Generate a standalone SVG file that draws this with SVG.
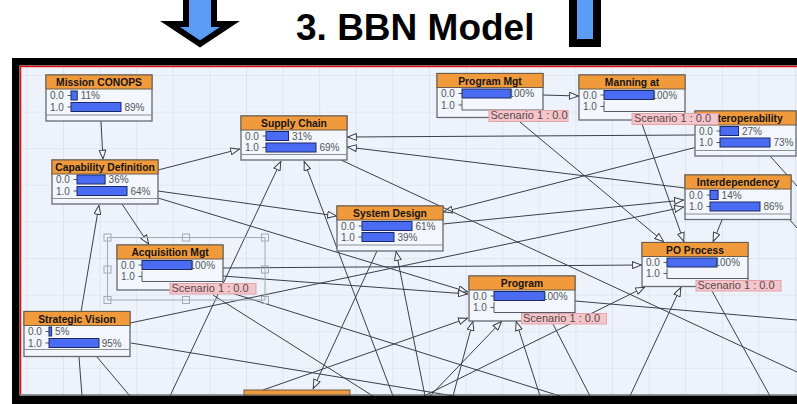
<svg xmlns="http://www.w3.org/2000/svg" width="797" height="404" viewBox="0 0 797 404">
<style>
.body{fill:#f3f6fc;stroke:#656b73;stroke-width:1.3}
.hdr{fill:#f09a3c;stroke:#6d5c48;stroke-width:1}
.ht{font-family:"Liberation Sans",Arial,sans-serif;font-weight:bold;font-size:10.3px;fill:#141414;text-anchor:middle}
.rl{font-family:"Liberation Sans",Arial,sans-serif;font-size:10px;fill:#505860}
.pc{font-family:"Liberation Sans",Arial,sans-serif;font-size:10px;fill:#505860}
.bar{fill:#4a6cf2;stroke:#1c2a66;stroke-width:1}
.tk{stroke:#555c66;stroke-width:1;fill:none}
.sep{stroke:#8a9098;stroke-width:1}
.lab{fill:#f4c5cb;stroke:#e2a3ab;stroke-width:1}
.lt{font-family:"Liberation Sans",Arial,sans-serif;font-size:11px;fill:#5a4848}
.cn line,.cn path{stroke:#3a4048;stroke-width:1;fill:none}
.ar{marker-end:url(#ah)}
.hd{fill:none;stroke:#a2aab6;stroke-width:1}
</style>
<defs>
<pattern id="grid" x="26.4" y="38.4" width="36.6" height="36.6" patternUnits="userSpaceOnUse">
<path d="M0,0H36.6M0,0V36.6" stroke="#d4dce8" stroke-width="1.2" fill="none"/>
</pattern>
<marker id="ah" viewBox="0 0 10 8" refX="10" refY="4" markerWidth="10" markerHeight="8" orient="auto" markerUnits="userSpaceOnUse">
<path d="M0.6,0.6 L9.4,4 L0.6,7.4 Z" fill="#f6f8fc" stroke="#3a4048" stroke-width="1"/>
</marker>
</defs>
<rect width="797" height="404" fill="#ffffff"/>
<!-- title area -->
<polygon points="186,-6 186,24 170,24 200,44 230,24 214,24 214,-6" fill="#5a9cf6" stroke="#000" stroke-width="6" stroke-linejoin="miter"/>
<text x="296" y="40" font-family="'Liberation Sans',Arial,sans-serif" font-weight="bold" font-size="37" fill="#000">3. BBN Model</text>
<rect x="573" y="-10" width="24" height="53" fill="#5a9cf6" stroke="#000" stroke-width="8"/>
<!-- panel -->
<rect x="20" y="66" width="777" height="330" fill="#eef3fb"/>
<rect x="20" y="66" width="777" height="330" fill="url(#grid)"/>
<!-- connectors -->
<g id="connectors" class="cn">
<line class="ar" x1="101" y1="121" x2="103" y2="159.5"/>
<line class="ar" x1="158" y1="170" x2="240" y2="149"/>
<line class="ar" x1="158" y1="191" x2="337" y2="216"/>
<line class="ar" x1="158" y1="198" x2="468" y2="292"/>
<line class="ar" x1="122" y1="204" x2="149" y2="244.5"/>
<line class="ar" x1="81" y1="312" x2="99" y2="205"/>
<line class="ar" x1="695" y1="135" x2="347" y2="137"/>
<line class="ar" x1="685" y1="188" x2="347" y2="147"/>
<line class="ar" x1="697" y1="147" x2="443" y2="212"/>
<line class="ar" x1="542" y1="95" x2="579" y2="96"/>
<line class="ar" x1="520" y1="122" x2="664" y2="242"/>
<line class="ar" x1="642" y1="124" x2="684" y2="242"/>
<line class="ar" x1="722" y1="220" x2="713" y2="242"/>
<line class="ar" x1="443" y1="224" x2="684" y2="200"/>
<line class="ar" x1="130" y1="323" x2="684" y2="207"/>
<line class="ar" x1="222" y1="268" x2="642" y2="265"/>
<line class="ar" x1="222" y1="276" x2="468" y2="294"/>
<line x1="341" y1="160" x2="797" y2="372"/>
<line x1="131" y1="343" x2="460" y2="397"/>
<line x1="79" y1="357" x2="82" y2="396"/>
<line x1="97" y1="357" x2="130" y2="396"/>
<line x1="213" y1="295" x2="373" y2="396"/>
<line x1="222" y1="290" x2="560" y2="396"/>
<line class="ar" x1="170" y1="396" x2="281" y2="161"/>
<line class="ar" x1="393" y1="396" x2="304" y2="161"/>
<line class="ar" x1="425" y1="396" x2="396" y2="251"/>
<line class="ar" x1="377" y1="251" x2="313" y2="389"/>
<line class="ar" x1="263" y1="390" x2="468" y2="318"/>
<line class="ar" x1="424" y1="396" x2="645" y2="287"/>
<line class="ar" x1="630" y1="396" x2="681" y2="287"/>
<line x1="712" y1="291" x2="770" y2="396"/>
<line x1="770" y1="156" x2="797" y2="186"/>
<line x1="790" y1="220" x2="797" y2="228"/>
<line x1="575" y1="301" x2="797" y2="320"/>
<line class="ar" x1="453" y1="396" x2="473" y2="321"/>
<line class="ar" x1="430" y1="396" x2="502" y2="321"/>
<line class="ar" x1="540" y1="396" x2="516" y2="321"/>
<line x1="553" y1="324" x2="590" y2="396"/>
</g>
<!-- nodes -->
<g id="n-mission" transform="translate(46,75)">
<rect class="body" width="106" height="46"/><rect class="hdr" width="106" height="14"/>
<text class="ht" x="53" y="11">Mission CONOPS</text>
<line class="sep" x1="0" y1="40" x2="106" y2="40"/>
<text class="rl" x="4" y="24">0.0</text><text class="rl" x="4" y="35.5">1.0</text>
<path class="tk" d="M21.5,20.5H25M21.5,32H25"/>
<rect class="bar" x="25" y="16" width="6.2" height="9"/><rect class="bar" x="25" y="27.5" width="50" height="9"/>
<text class="pc" x="34.7" y="24">11%</text><text class="pc" x="78.5" y="35.5">89%</text>
</g>
<g id="n-capability" transform="translate(52,160)">
<rect class="body" width="106" height="44"/><rect class="hdr" width="106" height="14"/>
<text class="ht" x="53" y="11">Capability Definition</text>
<line class="sep" x1="0" y1="38.5" x2="106" y2="38.5"/>
<text class="rl" x="4" y="23">0.0</text><text class="rl" x="4" y="34.5">1.0</text>
<path class="tk" d="M21.5,19.5H25M21.5,31H25"/>
<rect class="bar" x="25" y="15" width="28.1" height="9"/><rect class="bar" x="25" y="26.5" width="50" height="9"/>
<text class="pc" x="56.6" y="23">36%</text><text class="pc" x="78.5" y="34.5">64%</text>
</g>
<g id="n-supply" transform="translate(241,116)">
<rect class="body" width="106" height="44"/><rect class="hdr" width="106" height="14"/>
<text class="ht" x="53" y="11">Supply Chain</text>
<line class="sep" x1="0" y1="38.5" x2="106" y2="38.5"/>
<text class="rl" x="4" y="23.5">0.0</text><text class="rl" x="4" y="35">1.0</text>
<path class="tk" d="M21.5,20H25M21.5,31.5H25"/>
<rect class="bar" x="25" y="15.5" width="22.5" height="9"/><rect class="bar" x="25" y="27" width="50" height="9"/>
<text class="pc" x="51" y="23.5">31%</text><text class="pc" x="78.5" y="35">69%</text>
</g>
<g id="n-programmgt" transform="translate(437,73.5)">
<rect class="body" width="106" height="44"/><rect class="hdr" width="106" height="14"/>
<text class="ht" x="53" y="11">Program Mgt</text>
<text class="rl" x="4" y="23.5">0.0</text><text class="rl" x="4" y="35">1.0</text>
<path class="tk" d="M21.5,20H25M21.5,31.5H25M25,26V36.5H106"/>
<rect class="bar" x="25" y="15.5" width="49" height="9"/>
<text class="pc" x="71.5" y="23.5">100%</text>
<rect class="lab" x="52" y="37" width="79" height="11"/>
<text class="lt" x="53.5" y="45.7">Scenario 1 : 0.0</text>
</g>
<g id="n-interop" transform="translate(695,111)">
<rect class="body" width="101" height="45"/><rect class="hdr" width="101" height="14"/>
<text class="ht" x="50.5" y="11">Interoperability</text>
<line class="sep" x1="0" y1="39.5" x2="101" y2="39.5"/>
<text class="rl" x="4" y="23.5">0.0</text><text class="rl" x="4" y="35">1.0</text>
<path class="tk" d="M21.5,20H25M21.5,31.5H25"/>
<rect class="bar" x="25" y="15.5" width="18.5" height="9"/><rect class="bar" x="25" y="27" width="50" height="9"/>
<text class="pc" x="47" y="23.5">27%</text><text class="pc" x="78.5" y="35">73%</text>
</g>
<g id="n-manning" transform="translate(579,75)">
<rect class="body" width="106" height="45"/><rect class="hdr" width="106" height="14"/>
<text class="ht" x="53" y="11">Manning at</text>
<text class="rl" x="4" y="23.5">0.0</text><text class="rl" x="4" y="35">1.0</text>
<path class="tk" d="M21.5,20H25M21.5,31.5H25M25,26V36.5H106"/>
<rect class="bar" x="25" y="15.5" width="50" height="9"/>
<text class="pc" x="72.5" y="23.5">100%</text>
<rect class="lab" x="53" y="38.5" width="86" height="11"/>
<text class="lt" x="55" y="47.2">Scenario 1 : 0.0</text>
</g>
<g id="n-interdep" transform="translate(685,175)">
<rect class="body" width="106" height="44.5"/><rect class="hdr" width="106" height="14"/>
<text class="ht" x="53" y="11">Interdependency</text>
<line class="sep" x1="0" y1="39" x2="106" y2="39"/>
<text class="rl" x="4" y="23.5">0.0</text><text class="rl" x="4" y="35">1.0</text>
<path class="tk" d="M21.5,20H25M21.5,31.5H25"/>
<rect class="bar" x="25" y="15.5" width="8.1" height="9"/><rect class="bar" x="25" y="27" width="50" height="9"/>
<text class="pc" x="36.6" y="23.5">14%</text><text class="pc" x="78.5" y="35">86%</text>
</g>
<g id="n-system" transform="translate(337,206)">
<rect class="body" width="106" height="45"/><rect class="hdr" width="106" height="14"/>
<text class="ht" x="53" y="11">System Design</text>
<line class="sep" x1="0" y1="39" x2="106" y2="39"/>
<text class="rl" x="4" y="23.5">0.0</text><text class="rl" x="4" y="34.5">1.0</text>
<path class="tk" d="M21.5,20H25M21.5,31H25"/>
<rect class="bar" x="25" y="15.5" width="50" height="9"/><rect class="bar" x="25" y="26.5" width="32" height="9"/>
<text class="pc" x="78.5" y="23.5">61%</text><text class="pc" x="60.5" y="34.5">39%</text>
</g>
<g id="n-po" transform="translate(642,242.5)">
<rect class="body" width="106" height="44"/><rect class="hdr" width="106" height="14"/>
<text class="ht" x="53" y="11">PO Process</text>
<text class="rl" x="4" y="23.5">0.0</text><text class="rl" x="4" y="34.5">1.0</text>
<path class="tk" d="M21.5,20H25M21.5,31H25M25,26V36H106"/>
<rect class="bar" x="25" y="15.5" width="50" height="9"/>
<text class="pc" x="72.5" y="23.5">100%</text>
<rect class="lab" x="54" y="38" width="85" height="10.5"/>
<text class="lt" x="55.5" y="46.5">Scenario 1 : 0.0</text>
</g>
<g id="n-program" transform="translate(469,276)">
<rect class="body" width="106" height="45"/><rect class="hdr" width="106" height="14"/>
<text class="ht" x="53" y="11">Program</text>
<text class="rl" x="4" y="23.5">0.0</text><text class="rl" x="4" y="35">1.0</text>
<path class="tk" d="M21.5,20H25M21.5,31.5H25M25,26V36.5H106"/>
<rect class="bar" x="25" y="15.5" width="50.5" height="9"/>
<text class="pc" x="73" y="23.5">100%</text>
<rect class="lab" x="52.5" y="37.5" width="85" height="10.5"/>
<text class="lt" x="54" y="46">Scenario 1 : 0.0</text>
</g>
<g id="n-acquisition" transform="translate(117,245)">
<rect class="body" width="106" height="45"/><rect class="hdr" width="106" height="14"/>
<text class="ht" x="53" y="11">Acquisition Mgt</text>
<text class="rl" x="4" y="23.5">0.0</text><text class="rl" x="4" y="35">1.0</text>
<path class="tk" d="M21.5,20H25M21.5,31.5H25M25,26V36.5H106"/>
<rect class="bar" x="25" y="15.5" width="50" height="9"/>
<text class="pc" x="72.5" y="23.5">100%</text>
<rect class="lab" x="53" y="38.5" width="86" height="10.5"/>
<text class="lt" x="54.5" y="47">Scenario 1 : 0.0</text>
</g>
<g id="selection" class="hd">
<rect x="107.5" y="237.5" width="157.5" height="62.5"/>
<rect x="104" y="234" width="7" height="7"/><rect x="182.5" y="234" width="7" height="7"/><rect x="261.5" y="234" width="7" height="7"/>
<rect x="104" y="266" width="7" height="7"/><rect x="261.5" y="266" width="7" height="7"/>
<rect x="104" y="296.5" width="7" height="7"/><rect x="182.5" y="296.5" width="7" height="7"/><rect x="261.5" y="296.5" width="7" height="7"/>
</g>
<g id="n-strategic" transform="translate(24,311.5)">
<rect class="body" width="106" height="45"/><rect class="hdr" width="106" height="14"/>
<text class="ht" x="53" y="11">Strategic Vision</text>
<line class="sep" x1="0" y1="38" x2="106" y2="38"/>
<text class="rl" x="4" y="23.5">0.0</text><text class="rl" x="4" y="35">1.0</text>
<path class="tk" d="M21.5,20H25M21.5,31.5H25"/>
<rect class="bar" x="25" y="15.5" width="2.6" height="9"/><rect class="bar" x="25" y="27" width="50" height="9"/>
<text class="pc" x="31" y="23.5">5%</text><text class="pc" x="77.7" y="35">95%</text>
</g>
<g id="n-bottom" transform="translate(244,390)">
<rect class="hdr" width="106" height="14"/>
</g>
<!-- frame -->
<rect x="12" y="58" width="785" height="7.5" fill="#000"/>
<rect x="12" y="58" width="7.5" height="346" fill="#000"/>
<rect x="12" y="395.5" width="785" height="8.5" fill="#000"/>
<line x1="20.5" y1="66" x2="20.5" y2="395" stroke="#e01010" stroke-width="1.5"/>
<line x1="20" y1="66.5" x2="797" y2="66.5" stroke="#e01010" stroke-width="1.5"/>
<line x1="20" y1="394.8" x2="797" y2="394.8" stroke="#6a7078" stroke-width="1"/>
</svg>
